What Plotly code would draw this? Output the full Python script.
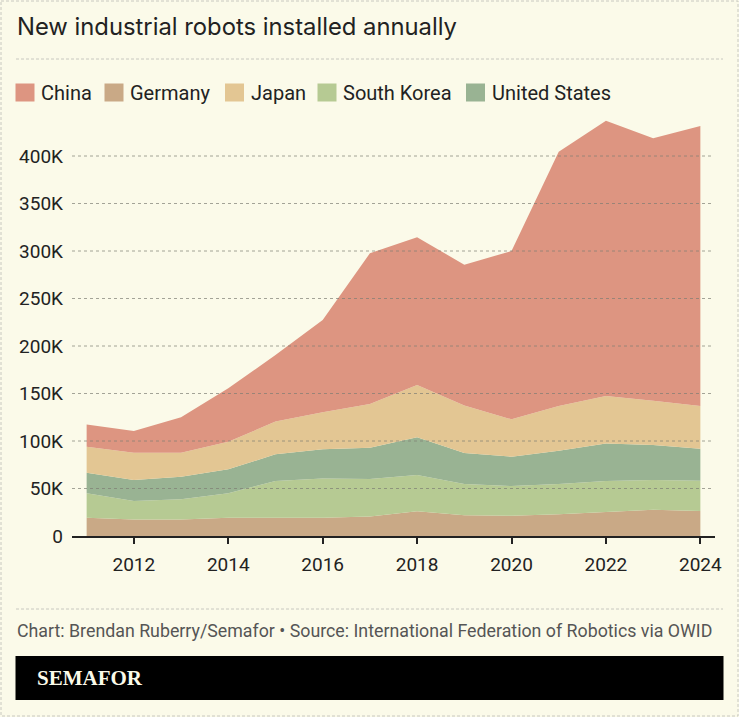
import plotly.graph_objects as go

# ---------------- data (thousands of robots) ----------------
years = [2011, 2012, 2013, 2014, 2015, 2016, 2017, 2018, 2019, 2020, 2021, 2022, 2023, 2024]
germany = [19.3, 17.5, 17.5, 19.3, 19.3, 19.3, 20.4, 26.0, 21.8, 21.4, 22.8, 25.3, 27.7, 26.3]
south_korea = [25.6, 19.3, 21.1, 25.6, 38.6, 41.1, 39.6, 38.2, 32.9, 31.2, 31.9, 32.6, 31.2, 31.9]
united_states = [21.8, 22.1, 23.9, 25.3, 28.1, 30.8, 33.0, 39.7, 32.7, 30.9, 35.1, 39.6, 36.9, 33.7]
japan = [27.3, 28.8, 25.2, 29.1, 34.4, 39.0, 45.9, 55.0, 50.1, 39.3, 47.0, 49.9, 46.7, 44.9]
china = [23.5, 22.8, 37.2, 56.1, 70.1, 97.2, 158.7, 155.5, 148.1, 177.2, 267.8, 289.8, 276.1, 294.8]

y_ticks = [0, 50, 100, 150, 200, 250, 300, 350, 400]
y_tick_labels = ["0", "50K", "100K", "150K", "200K", "250K", "300K", "350K", "400K"]
x_ticks = [2012, 2014, 2016, 2018, 2020, 2022, 2024]

legend_names = ["China", "Germany", "Japan", "South Korea", "United States"]
colors = {
    "China": "#dd9581",
    "Germany": "#c9a986",
    "Japan": "#e3c693",
    "South Korea": "#b6ca93",
    "United States": "#99b393",
}

title = "New industrial robots installed annually"
footer = "Chart: Brendan Ruberry/Semafor \u2022 Source: International Federation of Robotics via OWID"

# ---------------- layout geometry ----------------
W, H = 739, 717
L, R, T, B = 72, 24, 113, 181
PW, PH = W - L - R, H - T - B
BG = "#fbfae9"


def px(x):
    return (x - L) / PW


def py(y):
    return (H - B - y) / PH


fig = go.Figure()

stack_order = [
    ("Germany", germany),
    ("South Korea", south_korea),
    ("United States", united_states),
    ("Japan", japan),
    ("China", china),
]
for name, vals in stack_order:
    fig.add_trace(go.Scatter(
        x=years, y=vals, name=name, stackgroup="one", mode="none",
        fillcolor=colors[name], line=dict(width=0), showlegend=False,
        hovertemplate=name + ": %{y:.1f}K<extra></extra>",
    ))

shapes = []
annotations = []

# gridlines above the areas
for v in y_ticks[1:]:
    shapes.append(dict(type="line", xref="paper", yref="y", x0=0, x1=0.997, y0=v, y1=v,
                       line=dict(color="rgba(125,125,115,0.7)", width=1, dash="3px,3px"),
                       layer="above"))

# outer dashed border
shapes.append(dict(type="rect", xref="paper", yref="paper", x0=px(1), x1=px(738), y0=py(1), y1=py(716),
                   line=dict(color="#c8c8c0", width=1, dash="3px,2px"), layer="below"))
# separator under title
shapes.append(dict(type="line", xref="paper", yref="paper", x0=px(16), x1=px(723), y0=py(59), y1=py(59),
                   line=dict(color="#c8c8c0", width=1, dash="3px,2px")))
# separator above footer
shapes.append(dict(type="line", xref="paper", yref="paper", x0=px(16), x1=px(723), y0=py(609), y1=py(609),
                   line=dict(color="#c8c8c0", width=1, dash="3px,2px")))
# black bar
shapes.append(dict(type="rect", xref="paper", yref="paper", x0=px(15.5), x1=px(723.5), y0=py(656), y1=py(700),
                   fillcolor="#000000", line=dict(width=0)))

# legend
leg_sq_x = [15.5, 104.5, 225, 317.5, 466]
for name, sx in zip(legend_names, leg_sq_x):
    shapes.append(dict(type="rect", xref="paper", yref="paper", x0=px(sx), x1=px(sx + 19),
                       y0=py(83.5), y1=py(101.5), fillcolor=colors[name], line=dict(width=0)))
    annotations.append(dict(text=name, xref="paper", yref="paper", x=px(sx + 23.5), y=py(93),
                            xanchor="left", yanchor="middle", showarrow=False,
                            font=dict(family="Roboto", size=20, color="#222222")))

annotations.append(dict(text=title, xref="paper", yref="paper", x=px(15), y=py(26),
                        xanchor="left", yanchor="middle", showarrow=False,
                        font=dict(family="Inter, Liberation Sans", size=23.8, color="#222222")))
annotations.append(dict(text=footer, xref="paper", yref="paper", x=px(15), y=py(630),
                        xanchor="left", yanchor="middle", showarrow=False,
                        font=dict(family="Roboto", size=17.8, color="#555555")))
annotations.append(dict(text="<b>SEMAFOR</b>", xref="paper", yref="paper", x=px(35), y=py(678),
                        xanchor="left", yanchor="middle", showarrow=False,
                        font=dict(family="Liberation Serif, DejaVu Serif", size=21, color="#fbfae9")))

fig.update_layout(
    width=W, height=H,
    margin=dict(l=L, r=R, t=T, b=B),
    paper_bgcolor=BG, plot_bgcolor=BG,
    shapes=shapes, annotations=annotations,
    showlegend=False,
    xaxis=dict(range=[2010.69, 2024.31], tickvals=x_ticks, ticks="outside", ticklen=6,
               tickcolor="#222222", tickwidth=1.5, showline=True, linecolor="#222222", linewidth=1.5,
               showgrid=False, zeroline=False, fixedrange=True,
               tickfont=dict(family="Roboto", size=19, color="#222222"), ticklabelstandoff=4,
               layer="above traces"),
    yaxis=dict(range=[0, PH / 0.95], tickvals=y_ticks, ticktext=y_tick_labels, showgrid=False,
               zeroline=False, showline=False, fixedrange=True,
               tickfont=dict(family="Roboto", size=19, color="#222222"), ticklabelstandoff=8),
)

fig.write_html("out.html")
